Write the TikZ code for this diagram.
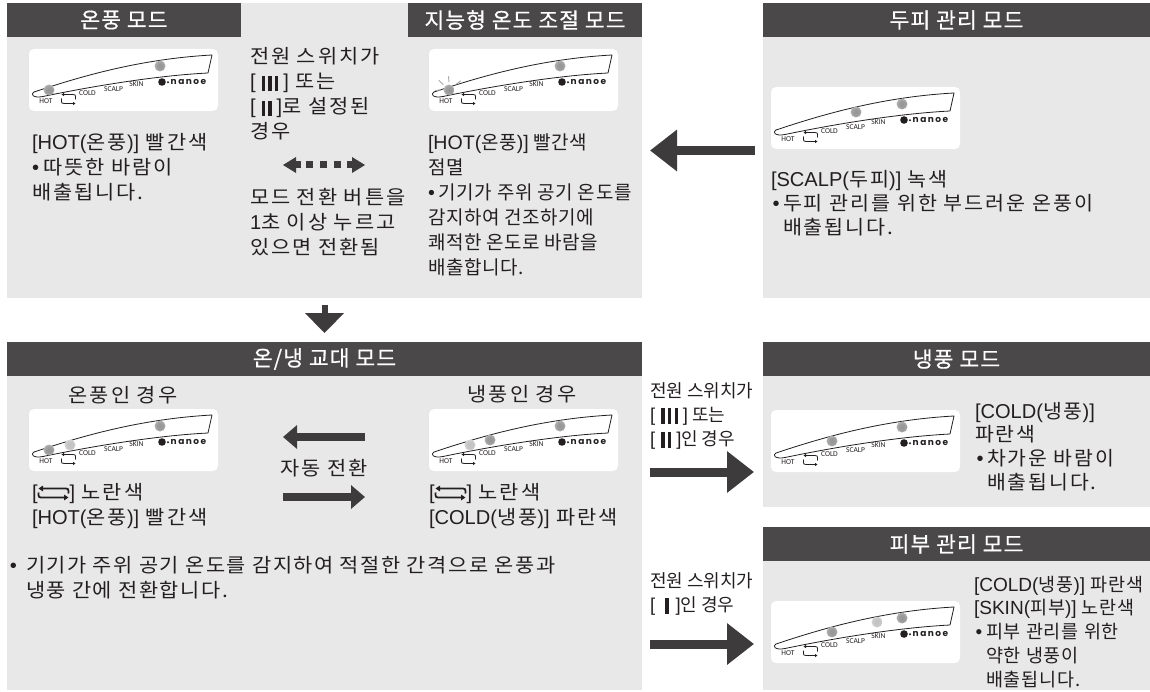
\documentclass[tikz,border=0pt]{standalone}
\usepackage{fontspec}
\setmainfont{Noto Sans CJK KR}
\newfontfamily\lat{Liberation Sans}[Scale=1.03]
\newfontfamily\labfont{Carlito}
\newfontfamily\logofont{Poppins}
\usetikzlibrary{arrows.meta,calc}

\definecolor{panelgray}{HTML}{E8E8E8}
\definecolor{headgray}{HTML}{4A4849}
\definecolor{arrowc}{HTML}{3D3B3C}
\definecolor{inkc}{HTML}{231F20}

% soft indicator lamps
\pgfdeclareradialshading{ledglow}{\pgfpoint{0bp}{0bp}}{color(0bp)=(black!42); color(16bp)=(black!38); color(34bp)=(black!22); color(50bp)=(white)}
\pgfdeclareradialshading{ledlight}{\pgfpoint{0bp}{0bp}}{color(0bp)=(black!24); color(16bp)=(black!22); color(34bp)=(black!12); color(50bp)=(white)}

% text sizes (size, line pitch, width factor, tracking)
\newcommand\kfont[4]{\fontsize{#1}{#2}\selectfont\addfontfeature{FakeStretch=#3,LetterSpace=#4}}
\newcommand\bodyfont{\kfont{19.5}{25}{1.07}{10}}
\newcommand\scalpfont{\kfont{19.5}{24}{1.06}{10}}
\newcommand\coldfont{\kfont{19.5}{23.7}{1.05}{10}}
\newcommand\notefont{\kfont{19.5}{25}{1.07}{8}}
\newcommand\smartfont{\kfont{19}{25}{1}{3}}
\newcommand\switchfont{\kfont{18}{24}{1}{0}}
\newcommand\skinfont{\kfont{18.5}{23.75}{1}{5}}
\newcommand\headfont{\fontsize{21.5}{24}\selectfont\addfontfeature{FakeBold=0.5,LetterSpace=5}}
\newcommand\tp{\rule{0pt}{18pt}}
\newcommand\swbar{\rule[-2.5pt]{3.4pt}{15.5pt}}
\newcommand\lbk{{\lat[}}
\newcommand\rbk{{\lat]}}
\newcommand\bul{\makebox[12pt][l]{\hspace{1.5pt}{\lat •}}}
\newcommand\dotb{{\lat •}\hspace{4pt}}
% switch position marks
\newcommand\swthree{\lbk\hspace{6pt}\swbar\hspace{3.3pt}\swbar\hspace{3.3pt}\swbar\hspace{5pt}\rbk}
\newcommand\swtwo{\lbk\hspace{6pt}\swbar\hspace{3.3pt}\swbar\hspace{5pt}\rbk}
\newcommand\swone{\lbk\hspace{10pt}\swbar\hspace{7pt}\rbk}

% two-way cycle symbol: origin at top left, 30 x 11 units before scaling
\newcommand\cycsym[7]{%
  \begin{scope}[shift={(#1,#2)}, xscale=#3, yscale=#4]
    \draw[inkc, line width=#5, -{Triangle[length=#6,width=#7]}] (30,6) .. controls (30,1) .. (25,1) -- (0,1);
    \draw[inkc, line width=#5, -{Triangle[length=#6,width=#7]}] (0,5) .. controls (0,10) .. (5,10) -- (30,10);
  \end{scope}}

% indicator panel of the dryer
\newcommand\device[3]{%
  \node[devbox] (#1) at (#2,#3) {};
  \begin{scope}[shift={(#2,#3)}]
    \draw[inkc, line width=0.8pt, line join=round] (5,43) .. controls (50,28) and (110,10) .. (183,6) -- (179,24) .. controls (120,27) and (50,40) .. (14,47.5) .. controls (4,49.5) and (1,45) .. (5,43) -- cycle;
    \node[lab] (#1-hot) at (17,52.5) {HOT};
    \node[lab] (#1-cold) at (58.5,44.5) {COLD};
    \node[lab] (#1-scalp) at (84.5,40) {SCALP};
    \node[lab] (#1-skin) at (107.5,35.5) {SKIN};
    \fill[inkc] (133,33) circle (3.8);
    \fill[inkc] (139,33.3) circle (1.1);
    \node[logo] (#1-logo) at (141.5,33) {n\kern1.5pt a\kern1.5pt n\kern1.5pt o\kern1.5pt e};
    \cycsym{32.5}{44.5}{0.467}{1}{0.8pt}{2.5pt}{3pt}
  \end{scope}}
\newcommand\led[3]{\shade[shading=ledglow] ($(#1.north west)+(#2,#3)$) circle (5.5);}
\newcommand\ledlt[3]{\shade[shading=ledlight] ($(#1.north west)+(#2,#3)$) circle (5.5);}

\begin{document}
\begin{tikzpicture}[x=1pt,y=-1pt,
  panel/.style={fill=panelgray, draw=none, inner sep=0pt, outer sep=0pt, anchor=north west},
  header/.style={fill=headgray, text=white, inner sep=0pt, outer sep=0pt, anchor=north west, minimum height=34pt, font=\headfont},
  txt/.style={inner sep=0pt, outer sep=0pt, anchor=north west, align=left, text=inkc},
  ctxt/.style={inner sep=0pt, outer sep=0pt, anchor=base, text=inkc, font=\bodyfont},
  devbox/.style={fill=white, rounded corners=5pt, inner sep=0pt, outer sep=0pt, anchor=north west, minimum width=189pt, minimum height=62pt},
  lab/.style={inner sep=0pt, text=inkc, font=\labfont\fontsize{7.5}{8}\selectfont},
  logo/.style={inner sep=0pt, anchor=west, text=inkc, font=\logofont\bfseries\fontsize{9}{10}\selectfont},
  ray/.style={draw=black!35, line width=0.9pt, line cap=round},
  bigarrow/.style={draw=arrowc, line width=9pt, -{Triangle[length=27pt,width=40pt]}},
  midarrow/.style={draw=arrowc, line width=7.5pt, -{Triangle[length=14pt,width=23pt]}},
  downarrow/.style={draw=arrowc, line width=6pt, -{Triangle[length=20pt,width=38pt]}},
]
\useasboundingbox (0,0) rectangle (1150,692);

% panels
\node[panel, minimum width=635pt, minimum height=295pt] (pTL) at (7,3) {};
\node[panel, minimum width=387pt, minimum height=295pt] (pTR) at (763,3) {};
\node[panel, minimum width=635pt, minimum height=348pt] (pBL) at (7,342) {};
\node[panel, minimum width=387pt, minimum height=165pt] (pCold) at (763,342) {};
\node[panel, minimum width=387pt, minimum height=163pt] (pSkin) at (763,527) {};

% headers
\node[header, minimum width=234pt] (hHot) at (7,3) {온풍 모드};
\node[header, minimum width=234pt] (hSmart) at (408,3) {지능형 온도 조절 모드};
\node[header, minimum width=387pt] (hScalp) at (763,3) {두피 관리 모드};
\node[header, minimum width=635pt] (hAlt) at (7,342) {온/냉 교대 모드};
\node[header, minimum width=387pt] (hCold) at (763,342) {냉풍 모드};
\node[header, minimum width=387pt] (hSkin) at (763,527) {피부 관리 모드};

% indicator panels and their lamps
\device{dHot}{29}{49}
\led{dHot}{20}{41} \led{dHot}{131}{17}
\device{dSmart}{429}{49}
\led{dSmart}{20}{41} \led{dSmart}{131}{17}
\begin{scope}[shift={(429,49)}]
  \draw[ray] (20,33) -- (19.5,27.5);
  \draw[ray] (14,35.5) -- (10,31.5);
  \draw[ray] (12,41) -- (6.5,41.5);
  \draw[ray] (27.5,35) -- (31.5,32);
\end{scope}
\device{dScalp}{771}{87}
\led{dScalp}{85}{25} \led{dScalp}{131}{17}
\device{dWarm}{29}{409}
\led{dWarm}{20}{41} \ledlt{dWarm}{41}{36} \led{dWarm}{131}{17}
\device{dCool}{429}{409}
\ledlt{dCool}{41}{36} \led{dCool}{61}{31} \led{dCool}{131}{17}
\device{dCold}{771}{410}
\led{dCold}{61}{31} \led{dCold}{131}{17}
\device{dSkin}{771}{601}
\led{dSkin}{61}{31} \ledlt{dSkin}{106}{21} \led{dSkin}{131}{17}

% warm mode
\node[txt, font=\bodyfont] (tHot) at (32,132) {\tp{\lat[HOT(}온풍{\lat)]} 빨간색\\\dotb 따뜻한 바람이\\배출됩니다.};

% switching between warm and smart modes
\node[txt, font=\bodyfont] (tSwA) at (250,46) {\tp 전원 스위치가\\\swthree{} 또는\\\swtwo 로 설정된\\경우};
\fill[arrowc] (283,165) -- (296,157) -- (296,173) -- cycle;
\fill[arrowc] (295,161.5) rectangle (301,168.5);
\fill[arrowc] (306,161.5) rectangle (313,168.5);
\fill[arrowc] (320,161.5) rectangle (327,168.5);
\fill[arrowc] (334,161.5) rectangle (341,168.5);
\fill[arrowc] (347,161.5) rectangle (353,168.5);
\fill[arrowc] (365,165) -- (352,157) -- (352,173) -- cycle;
\node[txt, font=\bodyfont] (tSwB) at (250,187) {\tp 모드 전환 버튼을\\{\lat 1}초 이상 누르고\\있으면 전환됨};

% smart mode
\node[txt, font=\smartfont] (tSmart) at (428,132) {\tp{\lat[HOT(}온풍{\lat)]} 빨간색\\점멸\\\dotb 기기가 주위 공기 온도를\\감지하여 건조하기에\\쾌적한 온도로 바람을\\배출합니다.};

% scalp mode
\node[txt, font=\scalpfont] (tScalp) at (771,169) {\tp{\lat[SCALP(}두피{\lat)]} 녹색\\\bul 두피 관리를 위한 부드러운 온풍이\\\hspace{12pt}배출됩니다.};

% alternating mode
\node[ctxt] (tWarm) at (123,402) {온풍인 경우};
\node[ctxt] (tCool) at (522,401) {냉풍인 경우};
\node[txt, font=\bodyfont] (tAltL) at (32,481) {\tp\lbk\hspace{32pt}\rbk{} 노란색\\{\lat[HOT(}온풍{\lat)]} 빨간색};
\node[txt, font=\bodyfont] (tAltR) at (429,481) {\tp\lbk\hspace{32pt}\rbk{} 노란색\\{\lat[COLD(}냉풍{\lat)]} 파란색};
\cycsym{38.5}{487.5}{1}{1}{1.8pt}{4.5pt}{5.5pt}
\cycsym{435.5}{487.5}{1}{1}{1.8pt}{4.5pt}{5.5pt}
\node[ctxt] (tAuto) at (324,475) {자동 전환};
\coordinate (aL1) at (365,437);
\coordinate (aL2) at (283,437);
\coordinate (aR1) at (283,497);
\coordinate (aR2) at (365,497);
\draw[midarrow] (aL1) -- (aL2);
\draw[midarrow] (aR1) -- (aR2);
\node[txt, font=\notefont] (tAltNote) at (26,554) {\tp\llap{{\lat •}\hspace{9pt}}기기가 주위 공기 온도를 감지하여 적절한 간격으로 온풍과\\냉풍 간에 전환합니다.};

% power switch notes towards cold and skin modes
\node[txt, font=\switchfont] (tSw1) at (650,379) {\tp 전원 스위치가\\\swthree{} 또는\\\swtwo 인 경우};
\node[txt, font=\switchfont] (tSw2) at (650,569) {\tp 전원 스위치가\\\swone 인 경우};
\coordinate (rA1) at (650,472);
\coordinate (rA2) at (754,472);
\coordinate (rB1) at (650,644);
\coordinate (rB2) at (754,644);
\draw[bigarrow] (rA1) -- (rA2);
\draw[bigarrow] (rB1) -- (rB2);

% cold mode
\node[txt, font=\coldfont] (tCold) at (975,400) {\tp{\lat[COLD(}냉풍{\lat)]}\\파란색\\\bul 차가운 바람이\\\hspace{12pt}배출됩니다.};

% skin mode
\node[txt, font=\skinfont] (tSkin) at (974,573) {\tp{\lat[COLD(}냉풍{\lat)]} 파란색\\{\lat[SKIN(}피부{\lat)]} 노란색\\\bul 피부 관리를 위한\\\hspace{12pt}약한 냉풍이\\\hspace{12pt}배출됩니다.};

% flow between modes
\draw[bigarrow] ([xshift=-8pt]pTR.west) -- ([xshift=8pt]pTL.east);
\draw[downarrow] ([yshift=-7pt]pTL.south) -- ([yshift=9pt]pBL.north);
\end{tikzpicture}
\end{document}
